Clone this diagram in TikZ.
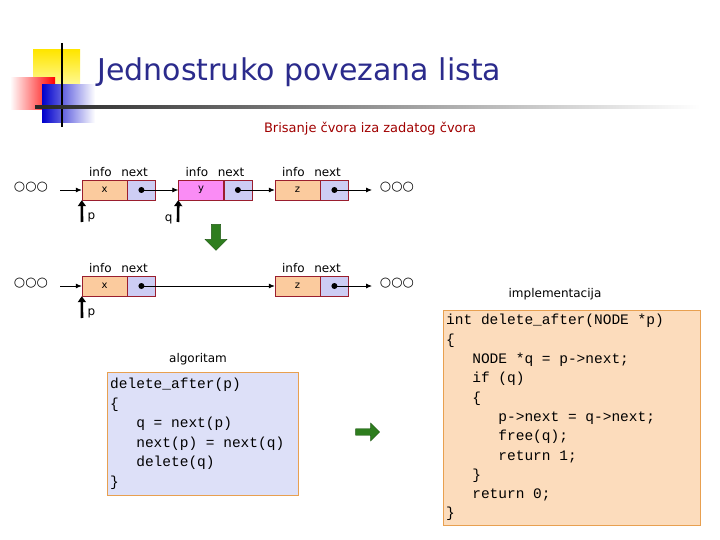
\documentclass[tikz,border=0pt]{standalone}
\usepackage{fontspec}
\setmainfont{DejaVu Sans}
\setmonofont{Liberation Mono}
\newcommand\tsp{\hphantom{x}}
\definecolor{titlec}{HTML}{2B2B8C}
\definecolor{redc}{HTML}{A00000}
\definecolor{infoc}{HTML}{FBCB9E}
\definecolor{nextc}{HTML}{CDCDF4}
\definecolor{pinkc}{HTML}{FA8CF5}
\definecolor{bordc}{HTML}{9A1E2E}
\definecolor{algc}{HTML}{DDE0F8}
\definecolor{implc}{HTML}{FCDCBC}
\definecolor{boxbord}{HTML}{E8A050}
\definecolor{greenc}{HTML}{2E7D1E}
\tikzset{
 cell/.style={draw=bordc,minimum height=20pt,inner sep=0pt,font=\fontsize{10}{10}\selectfont},
 icell/.style={cell,fill=infoc,minimum width=45pt},
 ncell/.style={cell,fill=nextc,minimum width=28pt},
 lbl/.style={font=\fontsize{12}{12}\selectfont},
 ptr/.style={-{Latex[length=6pt,width=5pt]},thick},
 dots/.style={font=\fontsize{13}{13}\selectfont},
 up/.style={-{Triangle[width=8pt,length=6pt]},line width=2.6pt},
}
\usetikzlibrary{arrows.meta,shapes.arrows}
\begin{document}
\begin{tikzpicture}[x=1pt,y=-1pt]
\useasboundingbox (0,0) rectangle (720,540);
% decoration
\shade[top color=yellow!80!orange,bottom color=yellow!25,draw=none] (33,50) rectangle (80,95);
\shade[left color=white,right color=red] (10,78) rectangle (55,110);
\shade[left color=blue!80!black,right color=white] (42,85) rectangle (95,123);
\draw[line width=1.5pt] (62,43) -- (62,127);
\shade[left color=black!85,right color=white,draw=none] (35,105.5) rectangle (700,108.5);
\node[anchor=west,text=titlec,font=\fontsize{30}{30}\selectfont] (title) at (94,72) {Jednostruko povezana lista};
\node[text=redc,font=\fontsize{13}{13}\selectfont] (sub) at (370,129) {Brisanje čvora iza zadatog čvora};
% row 1
\node[icell] (x1) at (104.5,190) {x};
\node[ncell,anchor=west] (xn1) at (x1.east) {};
\node[icell,fill=pinkc] (y1) at (201,190) {y};
\node[ncell,anchor=west] (yn1) at (y1.east) {};
\node[icell] (z1) at (297.5,190) {z};
\node[ncell,anchor=west] (zn1) at (z1.east) {};
\foreach \a in {x1,y1,z1}{\node[lbl,anchor=south] at ([xshift=14pt]\a.north) {info\hspace{0.8em}next};}
\node[dots] (dl1) at (31,187) {○○○};
\node[dots] (dr1) at (397,187) {○○○};
\coordinate (s1) at (60,190);
\draw[ptr] (s1) -- (x1.west);
\fill (xn1.center) circle (3pt); \draw[ptr] (xn1.center) -- (y1.west);
\fill (yn1.center) circle (3pt); \draw[ptr] (yn1.center) -- (z1.west);
\fill (zn1.center) circle (3pt); \coordinate (e1) at (372,190); \draw[ptr] (zn1.center) -- (e1);
\coordinate (pb1) at (82,222); \draw[up] (pb1) -- (x1.south west);
\node[lbl,anchor=west] (p1) at (84,217) {p};
\coordinate (qb1) at (178,222); \draw[up] (qb1) -- (y1.south west);
\node[lbl,anchor=east] (q1) at (176,219) {q};
\node[single arrow,shape border rotate=270,fill=greenc,draw=greenc!70!black,minimum height=26pt,minimum width=22pt,single arrow head extend=3pt,inner sep=2pt] (gd) at (216,235) {};
% row 2
\node[icell] (x2) at (104.5,286) {x};
\node[ncell,anchor=west] (xn2) at (x2.east) {};
\node[icell] (z2) at (297.5,286) {z};
\node[ncell,anchor=west] (zn2) at (z2.east) {};
\foreach \a in {x2,z2}{\node[lbl,anchor=south] at ([xshift=14pt]\a.north) {info\hspace{0.8em}next};}
\node[dots] (dl2) at (31,283) {○○○};
\node[dots] (dr2) at (397,283) {○○○};
\coordinate (s2) at (60,286);
\draw[ptr] (s2) -- (x2.west);
\fill (xn2.center) circle (3pt); \draw[ptr] (xn2.center) -- (z2.west);
\fill (zn2.center) circle (3pt); \coordinate (e2) at (372,286); \draw[ptr] (zn2.center) -- (e2);
\coordinate (pb2) at (82,318); \draw[up] (pb2) -- (x2.south west);
\node[lbl,anchor=west] (p2) at (84,313) {p};
% algorithm
\node[lbl] (algl) at (198,359) {algoritam};
\node[draw=boxbord,fill=algc,anchor=north west,minimum width=191pt,minimum height=123pt,text width=185pt,inner sep=3pt,align=left,font=\ttfamily\fontsize{14.5}{19.5}\selectfont] (alg) at (107,372) {delete\_after(p)\\\{\\\tsp\tsp\tsp q\tsp=\tsp next(p)\\\tsp\tsp\tsp next(p)\tsp=\tsp next(q)\\\tsp\tsp\tsp delete(q)\\\}};
\node[single arrow,fill=greenc,draw=greenc!70!black,minimum height=24pt,minimum width=18pt,single arrow head extend=3pt,inner sep=1.5pt] (ga) at (366,432) {};
% implementation
\node[lbl] (impl) at (555,294) {implementacija};
\node[draw=boxbord,fill=implc,anchor=north west,minimum width=257pt,minimum height=215pt,text width=251pt,inner sep=3pt,align=left,font=\ttfamily\fontsize{14.5}{19.3}\selectfont] (imp) at (443,310) {int\tsp delete\_after(NODE\tsp *p)\\\{\\\tsp\tsp\tsp NODE\tsp *q\tsp=\tsp p->next;\\\tsp\tsp\tsp if\tsp (q)\\\tsp\tsp\tsp\{\\\tsp\tsp\tsp\tsp\tsp\tsp p->next\tsp=\tsp q->next;\\\tsp\tsp\tsp\tsp\tsp\tsp free(q);\\\tsp\tsp\tsp\tsp\tsp\tsp return\tsp 1;\\\tsp\tsp\tsp\}\\\tsp\tsp\tsp return\tsp 0;\\\}};
\end{tikzpicture}
\end{document}
